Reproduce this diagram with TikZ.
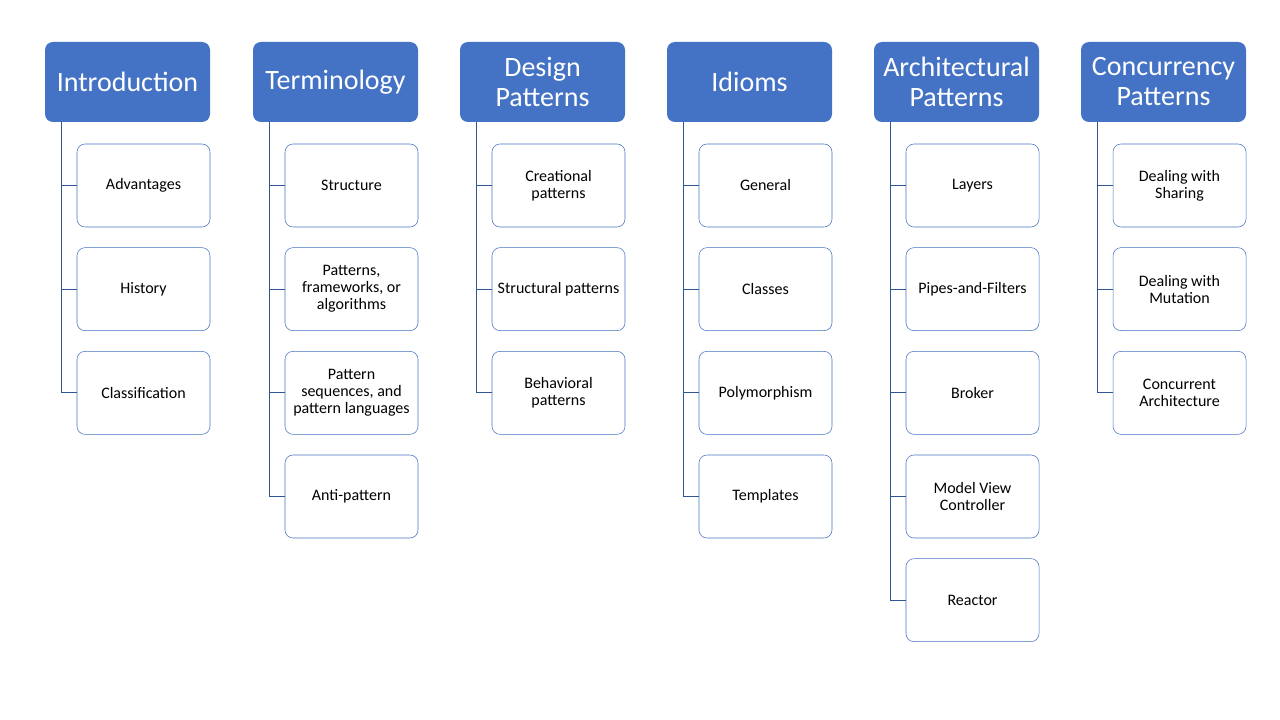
\documentclass[tikz,border=0pt]{standalone}
\usepackage{fontspec}
\setmainfont{Carlito}
\usetikzlibrary{positioning}
\definecolor{hdrblue}{HTML}{4472C4}
\definecolor{boxblue}{HTML}{4472C4}
\definecolor{linkblue}{HTML}{2F5597}

\tikzset{
	header/.style = {fill = hdrblue, rounded corners = 6pt, text = white, align = center,
		minimum width = 123.75pt, minimum height = 60pt, inner sep = 1pt, outer sep = 0pt,
		font = \fontsize{21}{22.5}\selectfont, anchor = north west},
	item/.style = {draw = boxblue, fill = white, rounded corners = 6pt, align = center,
		minimum width = 99.75pt, minimum height = 62.25pt, inner sep = 1pt, outer sep = 0pt,
		font = \fontsize{12}{12.75}\selectfont},
	link/.style = {draw = linkblue, line width = 0.75pt},
}

\begin{document}
\begin{tikzpicture}[x = 0.75pt, y = -0.75pt, node distance = 15.5pt]
		\fill[white] (0, 0) rectangle (1280, 720);
		% column heads
		\node[header] (intro) at (45, 42) {Introduction};
		\node[header] (term) at (253, 42) {Terminology};
		\node[header] (design) at (460, 42) {Design\\Patterns};
		\node[header] (idiom) at (667, 42) {Idioms};
		\node[header] (arch) at (874, 42) {Architectural\\Patterns};
		\node[header] (conc) at (1081, 42) {Concurrency\\Patterns};
		% Introduction
		\node[item, anchor = north west] (intro1) at (77, 144) {Advantages};
		\node[item, below = of intro1] (intro2) {History};
		\node[item, below = of intro2] (intro3) {Classification};
		% Terminology
		\node[item, anchor = north west] (term1) at (285, 144) {Structure};
		\node[item, below = of term1] (term2) {Patterns,\\frameworks, or\\algorithms};
		\node[item, below = of term2] (term3) {Pattern\\sequences, and\\pattern languages};
		\node[item, below = of term3] (term4) {Anti-pattern};
		% Design Patterns
		\node[item, anchor = north west] (design1) at (492, 144) {Creational\\patterns};
		\node[item, below = of design1] (design2) {Structural patterns};
		\node[item, below = of design2] (design3) {Behavioral\\patterns};
		% Idioms
		\node[item, anchor = north west] (idiom1) at (699, 144) {General};
		\node[item, below = of idiom1] (idiom2) {Classes};
		\node[item, below = of idiom2] (idiom3) {Polymorphism};
		\node[item, below = of idiom3] (idiom4) {Templates};
		% Architectural Patterns
		\node[item, anchor = north west] (arch1) at (906, 144) {Layers};
		\node[item, below = of arch1] (arch2) {Pipes-and-Filters};
		\node[item, below = of arch2] (arch3) {Broker};
		\node[item, below = of arch3] (arch4) {Model View\\Controller};
		\node[item, below = of arch4] (arch5) {Reactor};
		% Concurrency Patterns
		\node[item, anchor = north west] (conc1) at (1113, 144) {Dealing with\\Sharing};
		\node[item, below = of conc1] (conc2) {Dealing with\\Mutation};
		\node[item, below = of conc2] (conc3) {Concurrent\\Architecture};
		% connectors
		\foreach \h/\n in {intro/3, term/4, design/3, idiom/4, arch/5, conc/3}
			\foreach \i in {1,..., \n}
				\draw[link] ([xshift = 12pt]\h.south west) |- (\h\i.west);
\end{tikzpicture}
\end{document}
